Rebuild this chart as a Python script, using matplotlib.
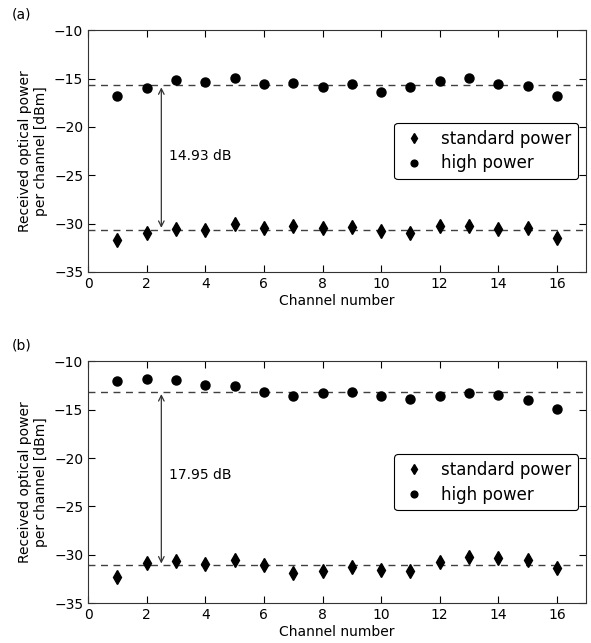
import matplotlib
matplotlib.use("Agg")
import matplotlib.pyplot as plt
import numpy as np

channels = np.arange(1, 17)

std_a = [-31.69, -31.00, -30.53, -30.70, -30.07, -30.42, -30.28, -30.42,
         -30.35, -30.76, -30.94, -30.28, -30.25, -30.59, -30.42, -31.50]
high_a = [-16.78, -15.99, -15.10, -15.37, -14.99, -15.61, -15.44, -15.85,
          -15.51, -16.37, -15.89, -15.27, -14.99, -15.61, -15.75, -16.82]

std_b = [-32.28, -30.84, -30.66, -31.00, -30.49, -31.10, -31.87, -31.66,
         -31.25, -31.59, -31.69, -30.76, -30.22, -30.32, -30.59, -31.35]
high_b = [-12.03, -11.79, -11.96, -12.44, -12.55, -13.20, -13.62, -13.31,
          -13.20, -13.62, -13.89, -13.62, -13.27, -13.51, -13.96, -14.96]

gap_labels = ["14.93 dB", "17.95 dB"]
gap_text_y = [-23.0, -21.8]
panel_labels = ["(a)", "(b)"]

fig = plt.figure(figsize=(5.91, 6.43), dpi=100)
ax_a = fig.add_axes([0.149, 0.577, 0.843, 0.376])
ax_b = fig.add_axes([0.149, 0.062, 0.843, 0.376])

for ax, std, high, lab, ty, pl in zip([ax_a, ax_b], [std_a, std_b], [high_a, high_b],
                                      gap_labels, gap_text_y, panel_labels):
    std_mean = np.mean(std)
    high_mean = np.mean(high)
    ax.axhline(high_mean, color="0.25", ls=(0, (5, 4)), lw=1.0, zorder=1)
    ax.axhline(std_mean, color="0.25", ls=(0, (5, 4)), lw=1.0, zorder=1)
    ax.plot(channels, std, ls="none", marker="d", color="black", ms=7,
            label="standard power", zorder=3)
    ax.plot(channels, high, ls="none", marker="o", color="black", ms=6.5,
            label="high power", zorder=3)
    ax.annotate("", xy=(2.5, std_mean + 0.2), xytext=(2.5, high_mean - 0.2),
                arrowprops=dict(arrowstyle="<->", color="0.2", lw=0.9,
                                shrinkA=0, shrinkB=0))
    ax.text(2.75, ty, lab, fontsize=10, va="center", ha="left")

    ax.set_xlim(0, 17)
    ax.set_ylim(-35, -10)
    ax.set_xticks(range(0, 17, 2))
    ax.set_yticks(range(-35, -9, 5))
    ax.tick_params(direction="in", top=True, right=True, labelsize=10,
                   length=5, width=0.8)
    for s in ax.spines.values():
        s.set_color("0.2")
    ax.set_xlabel("Channel number", fontsize=10, labelpad=2)
    ax.set_ylabel("Received optical power\nper channel [dBm]", fontsize=10)
    leg = ax.legend(loc="center right", numpoints=1, fontsize=12, markerscale=0.75,
                    fancybox=True, framealpha=1, edgecolor="black",
                    borderaxespad=0.5, handlelength=1.6, handletextpad=0.8,
                    labelspacing=0.4)
    leg.get_frame().set_linewidth(0.8)
    pos = ax.get_position()
    fig.text(0.02, pos.y1 + 0.025, pl, fontsize=10, ha="left", va="center")

fig.savefig("out.png", dpi=100)
